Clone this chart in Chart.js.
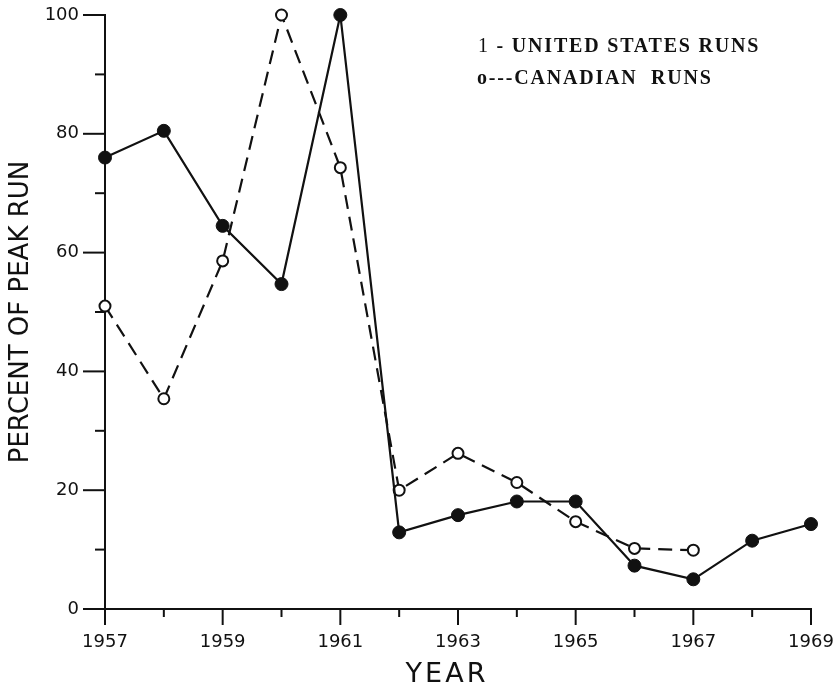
<!DOCTYPE html>
<html>
<head>
<meta charset="utf-8">
<title>Percent of peak run</title>
<script src="https://cdn.jsdelivr.net/npm/chart.js@4.4.0/dist/chart.umd.min.js"></script>
<style>
  html, body { margin: 0; padding: 0; background: #fff; }
  #wrap { width: 839px; height: 687px; }
</style>
</head>
<body>
<div id="wrap"><canvas id="chart" width="839" height="687"></canvas></div>
<script>
// years along the bottom
const years = [1957, 1958, 1959, 1960, 1961, 1962, 1963, 1964, 1965, 1966, 1967, 1968, 1969];
// percent of peak run
const usRuns = [76, 80.5, 64.5, 54.7, 100, 12.9, 15.8, 18.1, 18.1, 7.3, 5, 11.5, 14.3];
const canadianRuns = [51, 35.4, 58.6, 100, 74.3, 20, 26.2, 21.3, 14.7, 10.2, 9.9, null, null];
const yTicks = [0, 20, 40, 60, 80, 100];

const ink = '#111';
const axisFont = 'DejaVu Sans';

// tick marks: long ones for labelled values, short ones in between
const tickMarks = {
  id: 'tickMarks',
  afterDraw(chart) {
    const ctx = chart.ctx;
    const xs = chart.scales.x, ys = chart.scales.y;
    const area = chart.chartArea;
    ctx.save();
    ctx.strokeStyle = ink;
    ctx.lineWidth = 2;
    for (let v = 0; v <= 100; v += 10) {
      const py = ys.getPixelForValue(v);
      const len = yTicks.includes(v) ? 22 : 10;
      ctx.beginPath();
      ctx.moveTo(area.left - len, py);
      ctx.lineTo(area.left, py);
      ctx.stroke();
    }
    years.forEach((yr, i) => {
      const px = xs.getPixelForValue(i);
      const len = (yr % 2 === 1) ? 16 : 8;
      ctx.beginPath();
      ctx.moveTo(px, area.bottom);
      ctx.lineTo(px, area.bottom + len);
      ctx.stroke();
    });
    ctx.restore();
  }
};

// key in the top right and the spaced-out YEAR are plain lettering
const lettering = {
  id: 'lettering',
  afterDraw(chart) {
    const ctx = chart.ctx;
    const area = chart.chartArea;
    ctx.save();
    ctx.fillStyle = ink;
    ctx.textBaseline = 'middle';
    ctx.letterSpacing = '1.8px';
    ctx.font = '20px "Liberation Serif"';
    ctx.fillText('1', 478, 47);
    const w = ctx.measureText('1').width;
    ctx.font = 'bold 20px "Liberation Serif"';
    ctx.fillText(' - UNITED STATES RUNS', 478 + w, 47);
    ctx.fillText('o---CANADIAN  RUNS', 477, 79);

    ctx.letterSpacing = '3px';
    ctx.font = '27px ' + axisFont;
    ctx.textAlign = 'center';
    ctx.fillText('YEAR', 447, 675);
    ctx.restore();
  }
};

new Chart(document.getElementById('chart'), {
  type: 'line',
  data: {
    labels: years,
    datasets: [
      {
        label: 'UNITED STATES RUNS',
        data: usRuns,
        borderColor: ink,
        borderWidth: 2.2,
        pointRadius: 6.5,
        pointBackgroundColor: ink,
        pointBorderColor: ink,
        pointBorderWidth: 1,
        tension: 0,
        clip: false
      },
      {
        label: 'CANADIAN RUNS',
        data: canadianRuns,
        borderColor: ink,
        borderWidth: 2.2,
        borderDash: [14, 8],
        pointRadius: 5.5,
        pointBackgroundColor: '#fff',
        pointBorderColor: ink,
        pointBorderWidth: 2,
        tension: 0,
        spanGaps: false,
        clip: false
      }
    ]
  },
  options: {
    responsive: false,
    animation: false,
    layout: { padding: { top: 15, right: 28, left: 0, bottom: 0 } },
    plugins: {
      legend: { display: false },
      tooltip: { enabled: false }
    },
    scales: {
      x: {
        type: 'category',
        offset: false,
        grid: { display: false, drawTicks: false },
        border: { display: true, color: ink, width: 2 },
        ticks: {
          autoSkip: false,
          maxRotation: 0,
          padding: 23,
          color: ink,
          font: { family: axisFont, size: 18 },
          callback: (v, i) => (years[i] % 2 === 1 ? String(years[i]) : '')
        },
        afterFit(scale) {
          scale.height = 78;
          scale.paddingLeft = 0;
          scale.paddingRight = 0;
        }
      },
      y: {
        min: 0,
        max: 100,
        grid: { display: false, drawTicks: false },
        border: { display: true, color: ink, width: 2 },
        ticks: {
          stepSize: 20,
          padding: 26,
          color: ink,
          font: { family: axisFont, size: 18 }
        },
        title: {
          display: true,
          text: 'PERCENT OF PEAK RUN',
          color: ink,
          font: { family: axisFont, size: 26, lineHeight: 1.2 },
          padding: { top: 6, bottom: 0 }
        },
        afterFit(scale) {
          scale.width = 105;
          scale.paddingTop = 0;
          scale.paddingBottom = 0;
        }
      }
    }
  },
  plugins: [tickMarks, lettering]
});
</script>
</body>
</html>
